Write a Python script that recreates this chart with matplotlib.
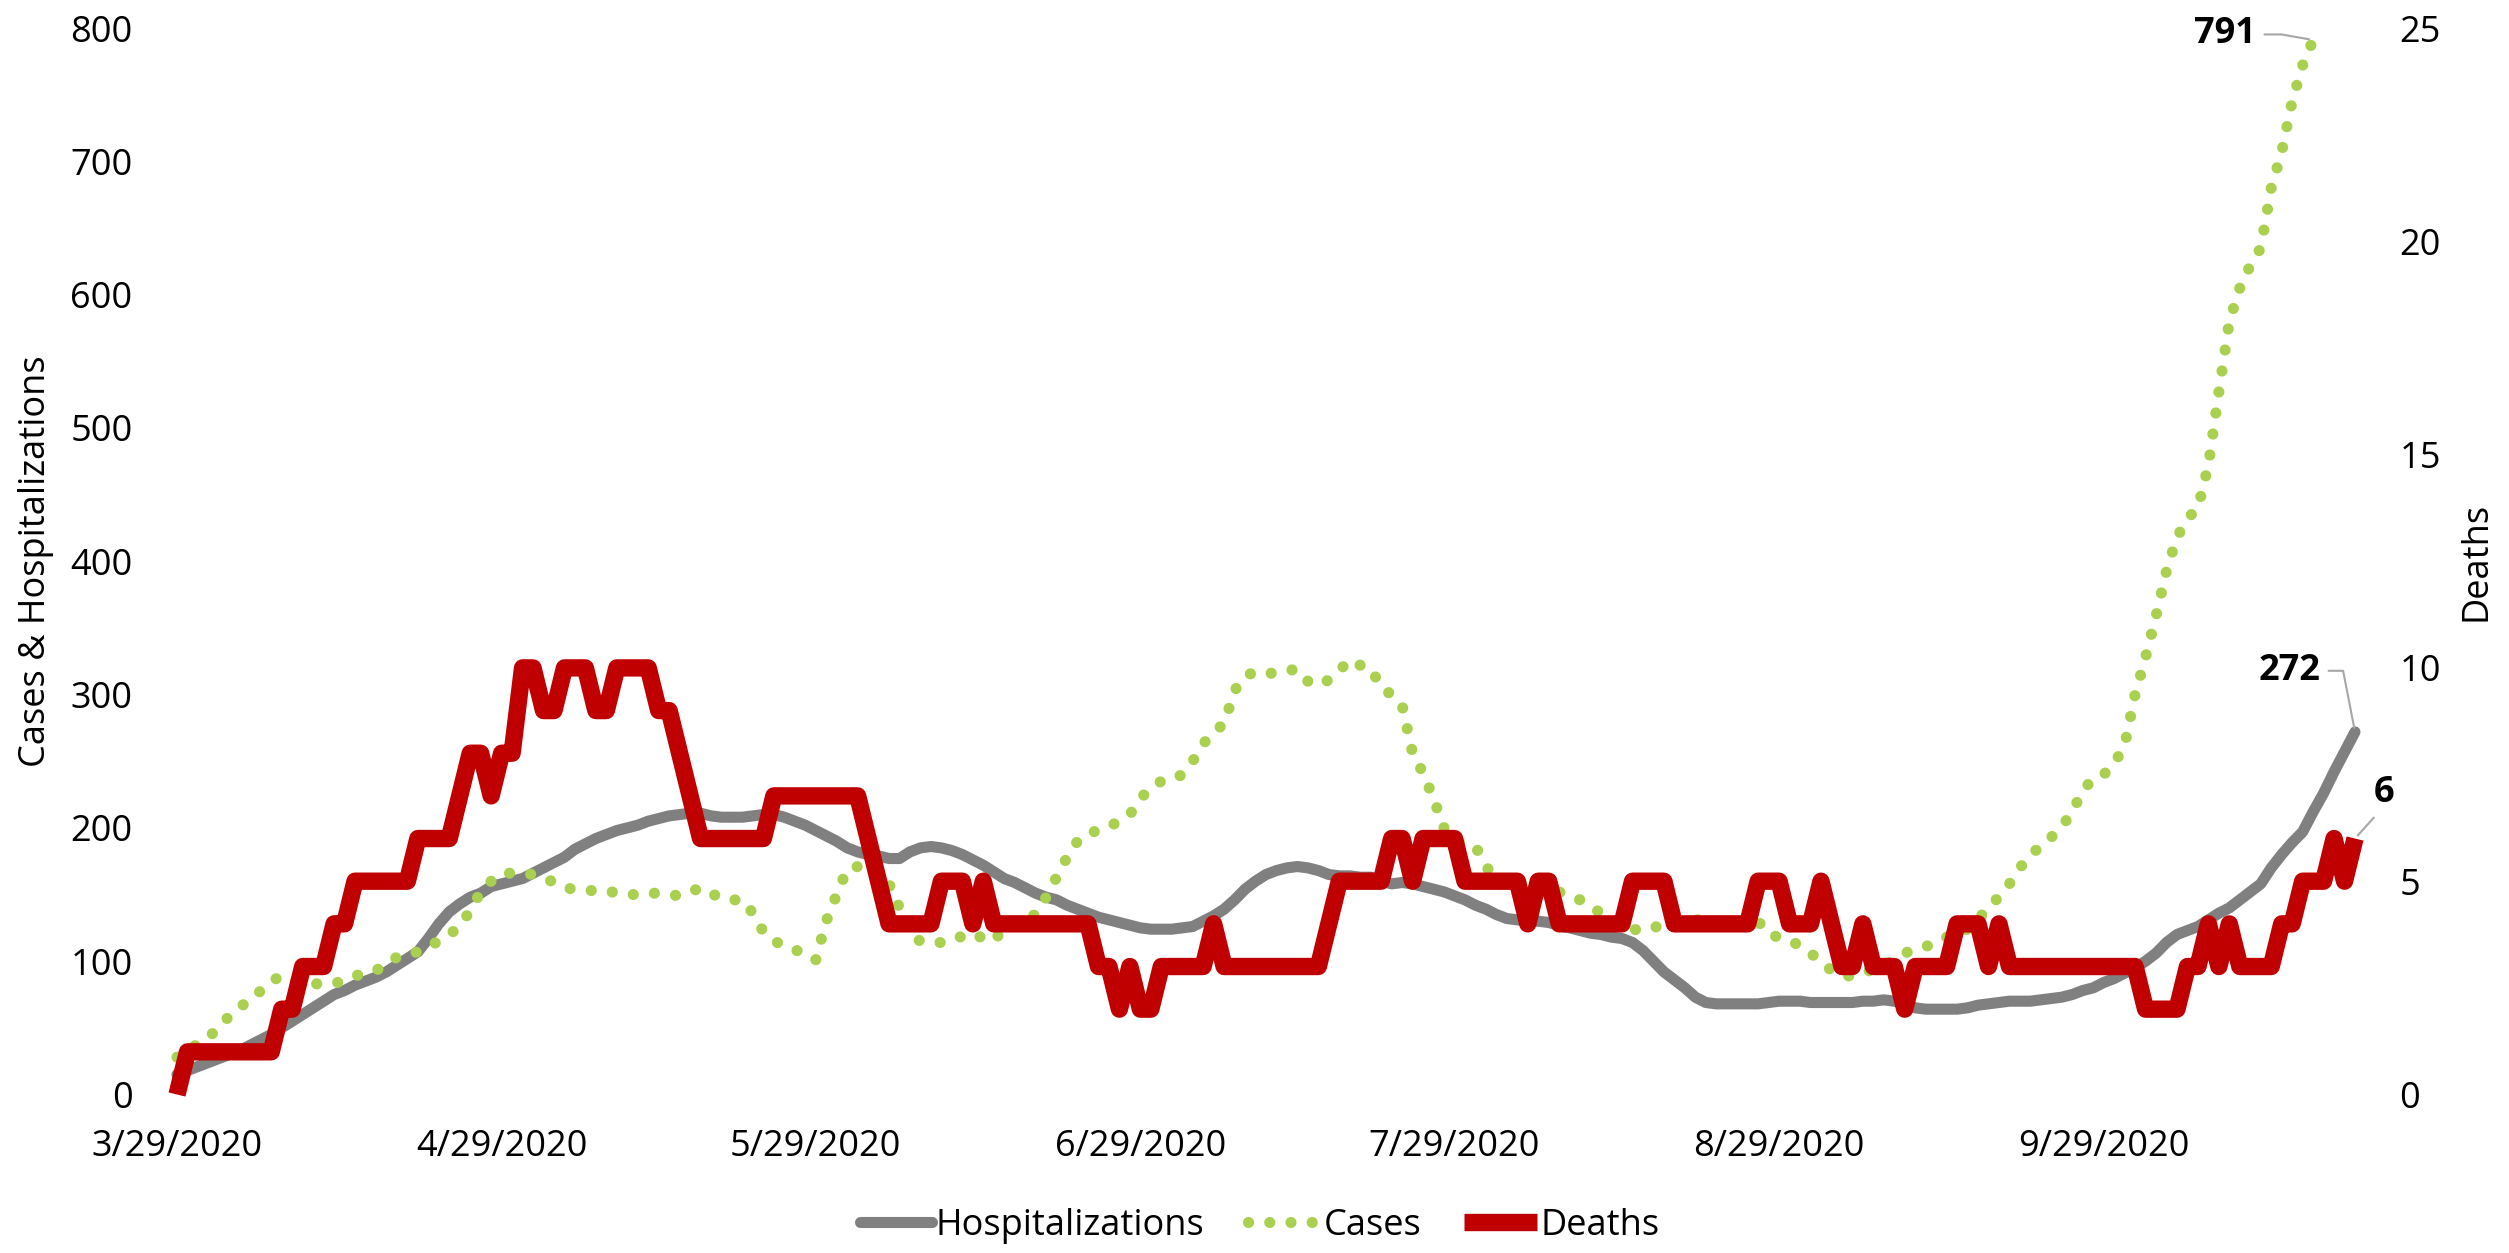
import matplotlib
matplotlib.use('Agg')
import matplotlib.pyplot as plt
import pandas as pd

plt.rcParams['font.family'] = ['Open Sans', 'DejaVu Sans']

# daily values, 3/29/2020 onwards
hospitalizations = [
    15, 18, 21, 24, 27, 30, 33, 37, 41, 45,
    50, 55, 60, 65, 70, 75, 78, 82, 85, 88,
    92, 97, 102, 107, 117, 128, 137, 143, 148, 151,
    156, 158, 160, 162, 166, 170, 174, 178, 184, 188,
    192, 195, 198, 200, 202, 205, 207, 209, 210, 211,
    211, 209, 208, 208, 208, 209, 210, 210, 208, 205,
    202, 198, 194, 190, 185, 182, 180, 179, 177, 177,
    182, 185, 186, 185, 183, 180, 176, 172, 167, 162,
    159, 155, 151, 148, 146, 142, 139, 136, 133, 131,
    129, 127, 125, 124, 124, 124, 125, 126, 130, 134,
    139, 146, 154, 160, 165, 168, 170, 171, 170, 168,
    165, 164, 164, 163, 163, 160, 158, 159, 158, 156,
    154, 152, 149, 146, 142, 139, 135, 132, 131, 130,
    130, 129, 127, 125, 123, 121, 120, 118, 117, 114,
    108, 100, 92, 86, 80, 73, 69, 68, 68, 68,
    68, 68, 69, 70, 70, 70, 69, 69, 69, 69,
    69, 70, 70, 71, 70, 68, 65, 64, 64, 64,
    64, 65, 67, 68, 69, 70, 70, 70, 71, 72,
    73, 75, 78, 80, 84, 87, 91, 95, 100, 106,
    114, 120, 123, 126, 131, 136, 140, 146, 152, 158,
    170, 180, 189, 197, 212, 226, 242, 257, 272,
]

cases = [
    28, 33, 38, 43, 50, 59, 66, 70, 78, 85,
    89, 87, 84, 83, 83, 83, 86, 89, 91, 93,
    98, 103, 105, 107, 111, 115, 120, 126, 138, 152,
    160, 166, 166, 166, 165, 163, 159, 155, 154, 153,
    153, 153, 151, 150, 150, 151, 151, 150, 149, 152,
    155, 151, 147, 146, 146, 136, 122, 115, 112, 109,
    104, 101, 130, 150, 169, 171, 172, 169, 158, 140,
    120, 115, 114, 114, 115, 119, 121, 117, 115, 125,
    128, 132, 135, 148, 163, 178, 190, 196, 198, 201,
    205, 210, 222, 230, 235, 236, 240, 250, 263, 272,
    278, 303, 314, 317, 316, 316, 318, 319, 310, 307,
    311, 318, 326, 322, 320, 305, 300, 292, 256, 241,
    222, 200, 191, 188, 186, 172, 158, 157, 159, 160,
    161, 158, 152, 148, 146, 141, 136, 131, 127, 124,
    123, 125, 128, 130, 131, 131, 131, 130, 130, 130,
    130, 130, 120, 118, 115, 112, 106, 100, 93, 89,
    89, 91, 94, 97, 101, 106, 109, 111, 114, 118,
    121, 124, 131, 141, 148, 158, 170, 180, 186, 193,
    201, 212, 228, 237, 240, 248, 262, 300, 328, 359,
    393, 418, 432, 440, 472, 527, 580, 605, 622, 635,
    680, 707, 745, 772, 791,
]

deaths = [
    0, 1, 1, 1, 1, 1, 1, 1, 1, 1,
    2, 2, 3, 3, 3, 4, 4, 5, 5, 5,
    5, 5, 5, 6, 6, 6, 6, 7, 8, 8,
    7, 8, 8, 10, 10, 9, 9, 10, 10, 10,
    9, 9, 10, 10, 10, 10, 9, 9, 8, 7,
    6, 6, 6, 6, 6, 6, 6, 7, 7, 7,
    7, 7, 7, 7, 7, 7, 6, 5, 4, 4,
    4, 4, 4, 5, 5, 5, 4, 5, 4, 4,
    4, 4, 4, 4, 4, 4, 4, 4, 3, 3,
    2, 3, 2, 2, 3, 3, 3, 3, 3, 4,
    3, 3, 3, 3, 3, 3, 3, 3, 3, 3,
    4, 5, 5, 5, 5, 5, 6, 6, 5, 6,
    6, 6, 6, 5, 5, 5, 5, 5, 5, 4,
    5, 5, 4, 4, 4, 4, 4, 4, 4, 5,
    5, 5, 5, 4, 4, 4, 4, 4, 4, 4,
    4, 5, 5, 5, 4, 4, 4, 5, 4, 3,
    3, 4, 3, 3, 3, 2, 3, 3, 3, 3,
    4, 4, 4, 3, 4, 3, 3, 3, 3, 3,
    3, 3, 3, 3, 3, 3, 3, 3, 2, 2,
    2, 2, 3, 3, 4, 3, 4, 3, 3, 3,
    3, 4, 4, 5, 5, 5, 6, 5, 6,
]

tick_labels = ['3/29/2020', '4/29/2020', '5/29/2020', '6/29/2020',
               '7/29/2020', '8/29/2020', '9/29/2020']

dates = pd.date_range('2020-03-29', periods=len(hospitalizations), freq='D')
case_dates = dates[:len(cases)]

GRAY = '#808080'
GREEN = '#A9D04E'
RED = '#C00000'
FS = 26

fig = plt.figure(figsize=(25.09, 12.53), dpi=100)
ax1 = fig.add_axes([0.07055, 0.1265, 0.86807, 0.85115])
ax2 = ax1.twinx()

ax1.plot(dates, hospitalizations, color=GRAY, lw=8, solid_joinstyle='round',
         solid_capstyle='round', clip_on=False, label='Hospitalizations')
ax1.plot(case_dates, cases, color=GREEN, lw=8, linestyle=(0, (0.01, 1.9)),
         dash_capstyle='round', clip_on=False, label='Cases')
ax2.plot(dates, deaths, color=RED, lw=12.5, solid_joinstyle='round',
         solid_capstyle='butt', clip_on=False, label='Deaths')

ax1.set_xlim(dates[0], dates[-1])
ax1.set_ylim(0, 800)
ax1.set_yticks(range(0, 801, 100))
ax2.set_ylim(0, 25)
ax2.set_yticks(range(0, 26, 5))
ax1.set_xticks(pd.to_datetime(tick_labels))
ax1.set_xticklabels(tick_labels)

for ax in (ax1, ax2):
    for s in ax.spines.values():
        s.set_visible(False)
    ax.tick_params(length=0, labelsize=FS)
ax1.tick_params(axis='y', pad=32)
ax2.tick_params(axis='y', pad=32)
ax1.tick_params(axis='x', pad=25)

fig.text(0.01435, 0.5523, 'Cases & Hospitalizations', rotation=90,
         ha='center', va='center', fontsize=FS)
fig.text(0.9872, 0.5523, 'Deaths', rotation=90, ha='center', va='center',
         fontsize=FS)

# data labels on last points, with elbow leader lines
leader = dict(arrowstyle='-', color='#A6A6A6', lw=1.5, shrinkA=4, shrinkB=3)
ax1.annotate('791', xy=(case_dates[-1], cases[-1]), xytext=(-41, 4),
             textcoords='offset points', ha='right', va='center',
             fontsize=FS, fontweight='bold',
             arrowprops=dict(leader, relpos=(1, 0.5),
                             connectionstyle='angle,angleA=0,angleB=170,rad=0'))
ax1.annotate('272', xy=(dates[-1], hospitalizations[-1]), xytext=(-25, 44),
             textcoords='offset points', ha='right', va='center',
             fontsize=FS, fontweight='bold',
             arrowprops=dict(leader, relpos=(1, 0.5),
                             connectionstyle='angle,angleA=0,angleB=101,rad=0'))
ax2.annotate('6', xy=(dates[-1], deaths[-1]), xytext=(21, 33),
             textcoords='offset points', ha='center', va='center',
             fontsize=FS, fontweight='bold',
             arrowprops=dict(leader, relpos=(0.3, 0)))

h1, l1 = ax1.get_legend_handles_labels()
h2, l2 = ax2.get_legend_handles_labels()
fig.legend(h1 + h2, l1 + l2, loc='center', bbox_to_anchor=(0.502, 0.0215),
           ncol=3, frameon=False, fontsize=FS, handlelength=2.0,
           handletextpad=0.1, columnspacing=1.2)

fig.savefig('out.png', dpi=100)
